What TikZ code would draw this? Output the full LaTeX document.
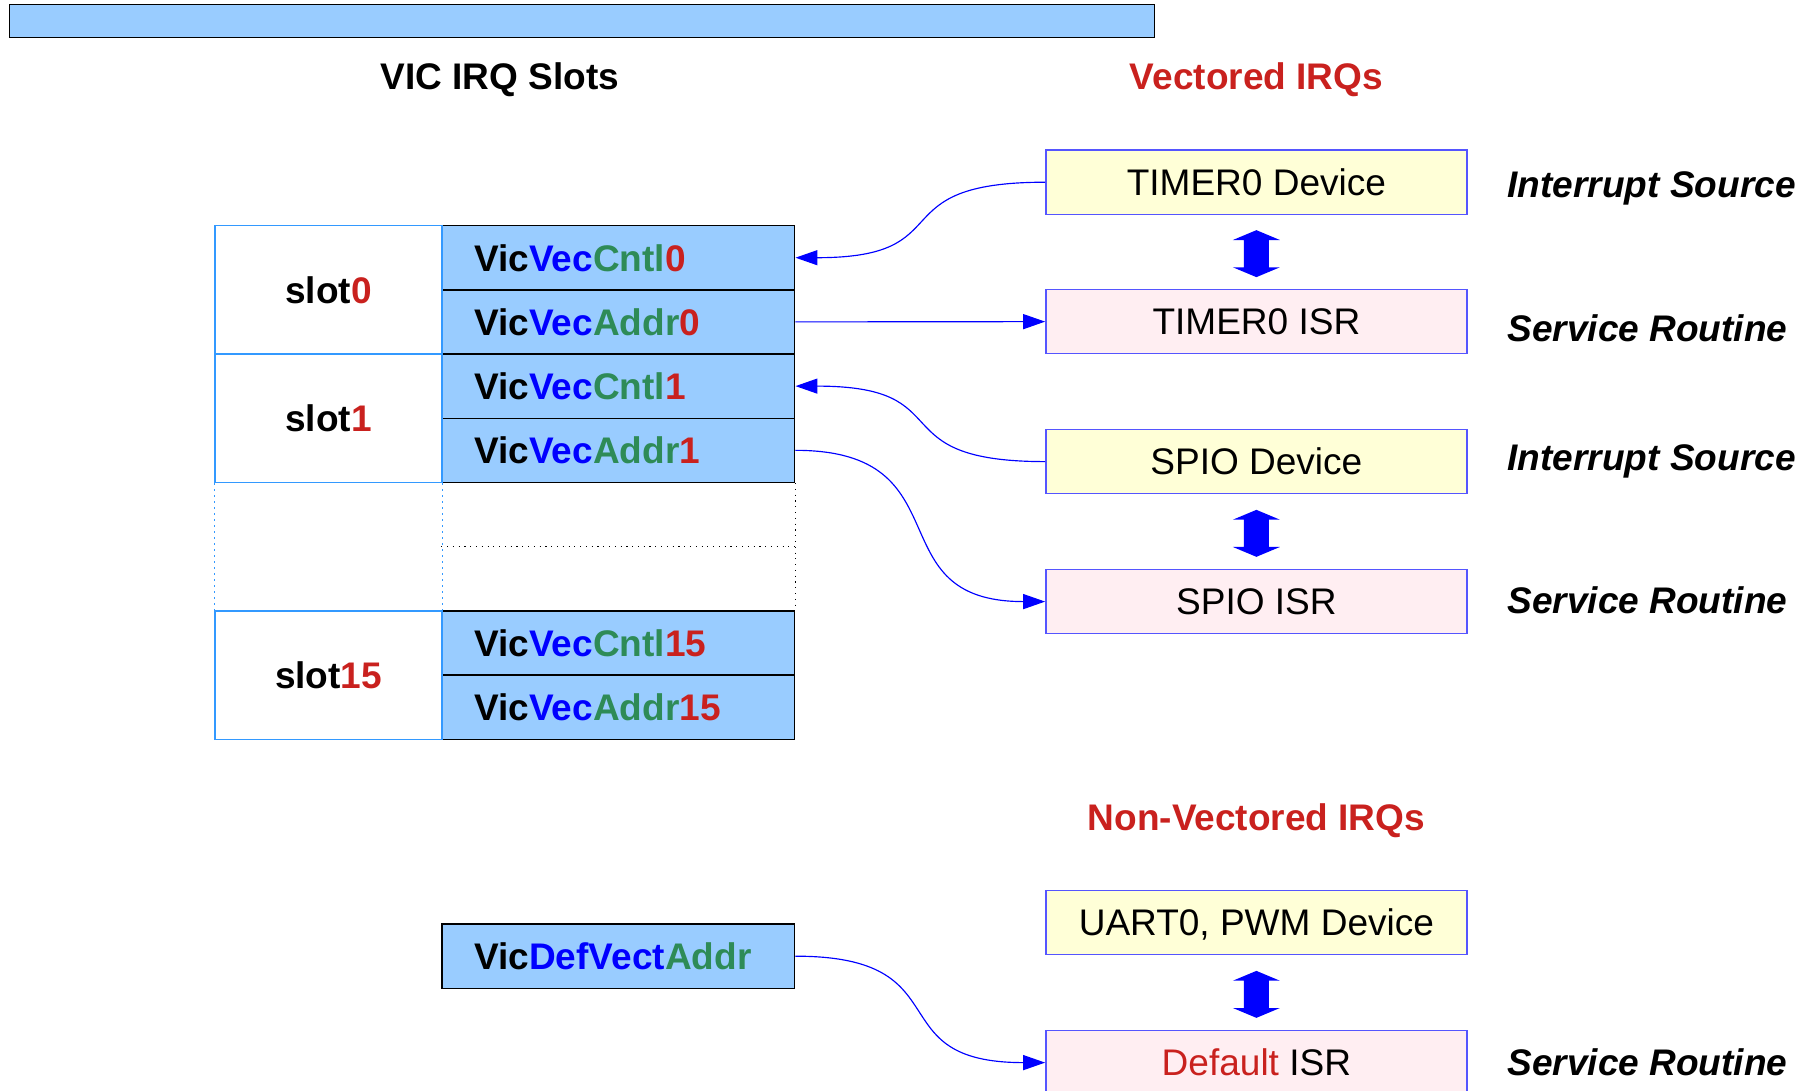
\documentclass[tikz,border=0pt]{standalone}
\usepackage{fontspec}
\setmainfont{Liberation Sans}
\usetikzlibrary{arrows.meta,calc}
\definecolor{regblue}{HTML}{99CCFF}
\definecolor{slotblue}{HTML}{3399FF}
\definecolor{boxblue}{HTML}{5555FF}
\definecolor{devyellow}{HTML}{FFFFD7}
\definecolor{isrpink}{HTML}{FFEEF2}
\definecolor{connblue}{HTML}{0000FF}
\definecolor{tred}{HTML}{C9211E}
\definecolor{tgreen}{HTML}{2E8B57}
\definecolor{tblue}{HTML}{0000FF}
\newcommand\vvreg[3]{Vic\textcolor{tblue}{#1}\textcolor{tgreen}{#2}\textcolor{tred}{#3}}
\begin{document}
\begin{tikzpicture}[x=1pt,y=-1pt,
  bigfont/.style={font=\fontsize{32}{38}\selectfont},
  txt/.style={bigfont, inner sep=0pt, text height=23pt, text depth=0pt},
  boldtxt/.style={txt, font=\fontsize{32}{38}\selectfont\bfseries},
  labeltxt/.style={txt, font=\fontsize{32}{38}\selectfont\bfseries\itshape, anchor=west},
  title/.style={boldtxt, text=tred},
  reg/.style={draw=black, line width=1.2pt, fill=regblue, minimum width=305pt, minimum height=55.5pt,
    text width=249pt, align=left, inner xsep=0pt, inner ysep=0pt,
    font=\fontsize{32}{38}\selectfont\bfseries, text height=23pt, text depth=0pt},
  slotcell/.style={draw=slotblue, line width=1.2pt, minimum width=196pt, minimum height=111pt,
    boldtxt},
  devbox/.style={draw=boxblue, line width=1.2pt, fill=devyellow, minimum width=364pt,
    minimum height=55.5pt, txt},
  isrbox/.style={devbox, fill=isrpink},
  conn/.style={draw=connblue, line width=1pt, -{Triangle[length=19pt,width=13pt]}},
  dblarrow/.style={fill=connblue, draw=none}
]
\useasboundingbox (0,0) rectangle (1568,943);

% top bar
\node[draw=black, line width=0.8pt, fill=regblue, minimum width=990pt, minimum height=28pt, inner sep=0pt] (topbar) at (503,18) {};

% titles
\node[boldtxt] (ttlslots) at (432,66) {VIC IRQ Slots};
\node[title] (ttlvec) at (1086,66) {Vectored IRQs};
\node[title] (ttlnonvec) at (1086,706) {Non-Vectored IRQs};

% registers
\node[reg] (cntl0) at (534.5,222.75) {\vvreg{Vec}{Cntl}{0}};
\node[reg] (addr0) at (534.5,278.25) {\vvreg{Vec}{Addr}{0}};
\node[reg] (cntl1) at (534.5,333.75) {\vvreg{Vec}{Cntl}{1}};
\node[reg] (addr1) at (534.5,389.25) {\vvreg{Vec}{Addr}{1}};
\node[reg] (cntl15) at (534.5,555.75) {\vvreg{Vec}{Cntl}{15}};
\node[reg] (addr15) at (534.5,611.25) {\vvreg{Vec}{Addr}{15}};
\node[reg] (defvect) at (534.5,826.5) {Vic\textcolor{tblue}{DefVect}\textcolor{tgreen}{Addr}};

% slot cells
\node[slotcell] (slot0) at (284,250.5) {slot\textcolor{tred}{0}};
\node[slotcell] (slot1) at (284,361.5) {slot\textcolor{tred}{1}};
\node[slotcell] (slot15) at (284,583.5) {slot\textcolor{tred}{15}};

% dotted gap
\draw[slotblue, line width=1.2pt, dash pattern=on 1.2pt off 4pt] (slot1.south west) -- (slot15.north west);
\draw[slotblue, line width=1.2pt, dash pattern=on 1.2pt off 4pt] (slot1.south east) -- (slot15.north east);
\draw[black, line width=1pt, dash pattern=on 1pt off 4pt] (addr1.south east) -- (cntl15.north east);
\draw[black, line width=1pt, dash pattern=on 1pt off 4pt] ($(addr1.south west)!0.5!(cntl15.north west)$) -- ($(addr1.south east)!0.5!(cntl15.north east)$);

% right boxes
\node[devbox] (dev0) at (1086,157.5) {TIMER0 Device};
\node[isrbox] (isr0) at (1086,278) {TIMER0 ISR};
\node[devbox] (dev1) at (1086,399) {SPIO Device};
\node[isrbox] (isr1) at (1086,520) {SPIO ISR};
\node[devbox] (dev2) at (1086,797.5) {UART0, PWM Device};
\node[isrbox] (isr2) at (1086,918.5) {\textcolor{tred}{Default} ISR};

% side labels
\node[labeltxt] (lab0) at (1303,159.5) {Interrupt Source};
\node[labeltxt] (lab1) at (1303,283.5) {Service Routine};
\node[labeltxt] (lab2) at (1303,395) {Interrupt Source};
\node[labeltxt] (lab3) at (1303,519) {Service Routine};
\node[labeltxt] (lab4) at (1303,918) {Service Routine};

% double arrows
\foreach \a/\b [count=\i] in {dev0/isr0,dev1/isr1,dev2/isr2}{
  \coordinate (m\i) at ($(\a.south)!0.5!(\b.north)+(0,1.5)$);
  \fill[dblarrow] (m\i) ++(0,-20.3) -- ++(20.3,8.5) -- ++(-9.5,0) -- ++(0,23.6) -- ++(9.5,0)
     -- ++(-20.3,8.5) -- ++(-20.3,-8.5) -- ++(9.5,0) -- ++(0,-23.6) -- ++(-9.5,0) -- cycle;
}

% connectors
\draw[conn] (dev0.west) to[out=180,in=0,looseness=1.65] (cntl0.east);
\draw[conn] (addr0.east) -- (isr0.west);
\draw[conn] (dev1.west) to[out=180,in=0,looseness=1.65] (cntl1.east);
\draw[conn] (addr1.east) to[out=0,in=180,looseness=1.5] (isr1.west);
\draw[conn] (defvect.east) to[out=0,in=180,looseness=1.6] (isr2.west);
\end{tikzpicture}
\end{document}
